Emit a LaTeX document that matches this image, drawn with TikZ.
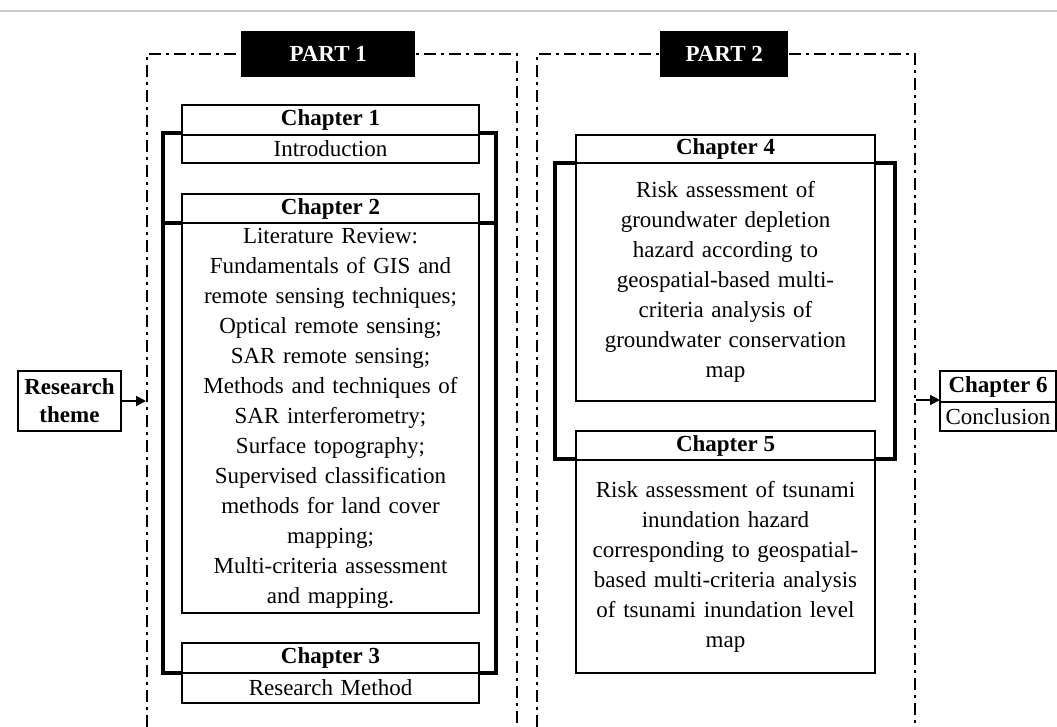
\documentclass[tikz,border=0pt]{standalone}
\usepackage{fontspec}
\setmainfont{Liberation Serif}
\usetikzlibrary{positioning,arrows.meta}

\begin{document}
\begin{tikzpicture}[
    x=1pt, y=-1pt,
    font=\fontsize{23}{30}\selectfont,
    box/.style ={
        draw, fill=white, line width=1.8pt,
        inner sep=0pt, outer sep=0pt,
        minimum width=297pt, align=center,
    },
    chead/.style={box, minimum height=30pt, font=\fontsize{23}{30}\selectfont\bfseries},
    cbody/.style={box, text width=293pt},
    part/.style ={fill=black, text=white, font=\fontsize{23}{30}\selectfont\bfseries,
        inner sep=0pt, minimum height=46pt},
    frame/.style={line width=2pt, dash pattern=on 12pt off 5pt on 3pt off 5pt},
    bracket/.style={line width=4.5pt},
    link/.style={line width=2pt, -{Triangle[length=10pt,width=10pt]}},
    ]
    \useasboundingbox (0,0) rectangle (1057,727);
    \draw[gray!40, line width=1.2pt] (0,11) -- (1057,11);

    % the two parts
    \draw[frame] (147,727) |- (517,54) -- (517,727);
    \draw[frame] (537,727) |- (915,54) -- (915,727);
    \node[part, minimum width=174pt, anchor=north west] (part1) at (241,31) {PART 1};
    \node[part, minimum width=128pt, anchor=north west] (part2) at (660,31) {PART 2};

    % brackets behind the chapters
    \draw[bracket] (163,133) rectangle (496,673);
    \draw[bracket] (163,223) -- (496,223);
    \draw[bracket] (555,163) rectangle (895,459);

    % part 1
    \node[chead, anchor=north west] (ch1) at (182,105) {Chapter 1};
    \node[cbody, minimum height=28pt, below=0pt of ch1] (intro) {Introduction};
    \node[chead, minimum height=29pt, anchor=north west] (ch2) at (182,194) {Chapter 2};
    \node[cbody, minimum height=390pt, below=0pt of ch2] (review) {Literature Review:\\
        Fundamentals of GIS and\\ remote sensing techniques;\\ Optical remote sensing;\\
        SAR remote sensing;\\ Methods and techniques of\\ SAR interferometry;\\
        Surface topography;\\ Supervised classification\\ methods for land cover\\
        mapping;\\ Multi-criteria assessment\\ and mapping.};
    \node[chead, anchor=north west] (ch3) at (182,643) {Chapter 3};
    \node[cbody, minimum height=30pt, below=0pt of ch3] (method) {Research Method};

    % part 2
    \node[chead, minimum width=299pt, minimum height=28pt, anchor=north west] (ch4) at (576,135) {Chapter 4};
    \node[cbody, minimum width=299pt, minimum height=238pt, below=0pt of ch4] (ground) {Risk assessment of\\
        groundwater depletion\\ hazard according to\\ geospatial-based multi-\\
        criteria analysis of\\ groundwater conservation\\ map};
    \node[chead, minimum width=299pt, minimum height=29pt, anchor=north west] (ch5) at (576,431) {Chapter 5};
    \node[cbody, minimum width=299pt, minimum height=213pt, below=0pt of ch5] (tsunami) {Risk assessment of tsunami\\
        inundation hazard\\ corresponding to geospatial-\\ based multi-criteria analysis\\
        of tsunami inundation level\\ map};

    % theme and conclusion
    \node[box, minimum width=103pt, minimum height=60pt, font=\fontsize{23}{28}\selectfont\bfseries,
        anchor=north west] (theme) at (18,371) {Research\\ theme};
    \node[chead, minimum width=116pt, minimum height=31pt, anchor=north west] (ch6) at (940,371) {Chapter 6};
    \node[box, minimum width=116pt, minimum height=29pt, below=0pt of ch6] (concl) {Conclusion};

    \coordinate (p1in) at (146,401);
    \coordinate (p2out) at (916,400);
    \draw[link] (theme) -- (p1in);
    \draw[link] (p2out) -- (p2out -| ch6.west);
\end{tikzpicture}
\end{document}
